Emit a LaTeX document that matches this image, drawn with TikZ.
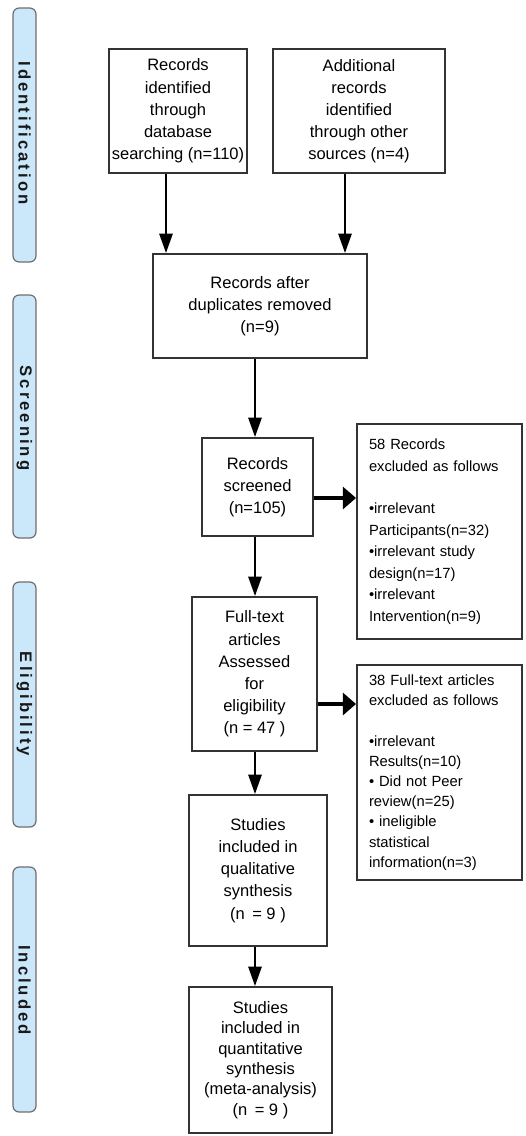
\documentclass[tikz,border=0pt]{standalone}
\usepackage{fontspec}
\setmainfont{Liberation Sans}
\usetikzlibrary{arrows.meta,calc}
\definecolor{barfill}{HTML}{CBE7FA}
\definecolor{barline}{HTML}{6E6E6E}
\definecolor{boxline}{HTML}{333333}
\tikzset{
  stagebox/.style={draw=boxline, line width=1.1pt, fill=white, inner sep=0pt,
    align=center, font=\fontsize{9.4}{12.6}\selectfont},
  exclbox/.style={draw=boxline, line width=1.1pt, fill=white, inner ysep=0pt,
    inner xsep=12*0.02cm, text width=141*0.02cm, minimum width=165*0.02cm,
    minimum height=215*0.02cm, align=left},
  phasebar/.style={draw=barline, line width=0.7pt, fill=barfill, rounded corners=3.5pt},
  phasetext/.style={rotate=-90, text=black!90,
    font=\fontsize{9.5}{10}\selectfont\bfseries\addfontfeature{LetterSpace=18}},
  downarr/.style={line width=1.2pt, -{Triangle[length=11pt,width=7.5pt]}},
  rightarr/.style={line width=1.8pt, -{Triangle[length=7.5pt,width=12.5pt]}},
}
\begin{document}
\begin{tikzpicture}[x=0.02cm,y=-0.02cm]
\useasboundingbox (0,0) rectangle (525,1136);

% phase bars
\draw[phasebar] (13,8) rectangle (36,262);
\node[phasetext] (pid) at (24.5,133) {Identification};
\draw[phasebar] (13,295) rectangle (36,538);
\node[phasetext] (psc) at (24.5,418) {Screening};
\draw[phasebar] (13,582) rectangle (36,827);
\node[phasetext] (pel) at (24.5,704) {Eligibility};
\draw[phasebar] (13,867) rectangle (36,1112);
\node[phasetext] (pin) at (24.5,990) {Included};

% boxes
\node[stagebox, minimum width=138*0.02cm, minimum height=124*0.02cm] (b1) at (178,111)
  {Records\\identified\\through\\database\\searching (n=110)};
\node[stagebox, minimum width=172*0.02cm, minimum height=124*0.02cm] (b2) at (359,111)
  {Additional\\records\\identified\\through other\\sources (n=4)};
\node[stagebox, minimum width=214*0.02cm, minimum height=104*0.02cm] (b3) at (260,306)
  {Records after\\duplicates removed\\(n=9)};
\node[stagebox, minimum width=111*0.02cm, minimum height=98*0.02cm] (s) at (257.5,487)
  {Records\\screened\\(n=105)};
\node[exclbox, font=\fontsize{8.4}{12.2}\selectfont] (e1) at (439.5,531.5)
  {58 Records\\excluded as follows\\[12.2pt]%
   •irrelevant\\Participants(n=32)\\•irrelevant study\\design(n=17)\\•irrelevant\\Intervention(n=9)};
\node[stagebox, minimum width=125*0.02cm, minimum height=154*0.02cm] (f) at (254.5,674)
  {Full-text\\articles\\Assessed\\for\\eligibility\\(n = 47 )};
\node[exclbox, font=\fontsize{8.4}{11.5}\selectfont] (e2) at (439.5,772.5)
  {38 Full-text articles\\excluded as follows\\[11.5pt]%
   •irrelevant\\Results(n=10)\\• Did not Peer\\review(n=25)\\• ineligible\\statistical\\information(n=3)};
\node[stagebox, minimum width=138*0.02cm, minimum height=151*0.02cm] (q) at (258,870.5)
  {Studies\\included in\\qualitative\\synthesis\\(n \,= 9 )};
\node[stagebox, font=\fontsize{9.4}{11.6}\selectfont,
  minimum width=143*0.02cm, minimum height=146*0.02cm] (m) at (260.5,1060)
  {Studies\\included in\\quantitative\\synthesis\\(meta-analysis)\\(n \,= 9 )};

% helper coordinates for connector positions
\coordinate (xa) at (166,0);
\coordinate (xb) at (345,0);
\coordinate (xc) at (255,0);
\coordinate (ya) at (0,498);
\coordinate (yb) at (0,704);

% connectors
\draw[downarr] (b1.south -| xa) -- (b3.north -| xa);
\draw[downarr] (b2.south -| xb) -- (b3.north -| xb);
\draw[downarr] (b3.south -| xc) -- (s.north -| xc);
\draw[downarr] (s.south -| xc) -- (f.north -| xc);
\draw[downarr] (f.south -| xc) -- (q.north -| xc);
\draw[downarr] (q.south -| xc) -- (m.north -| xc);
\draw[rightarr] (s.east |- ya) -- (e1.west |- ya);
\draw[rightarr] (f.east |- yb) -- (e2.west |- yb);
\end{tikzpicture}
\end{document}
